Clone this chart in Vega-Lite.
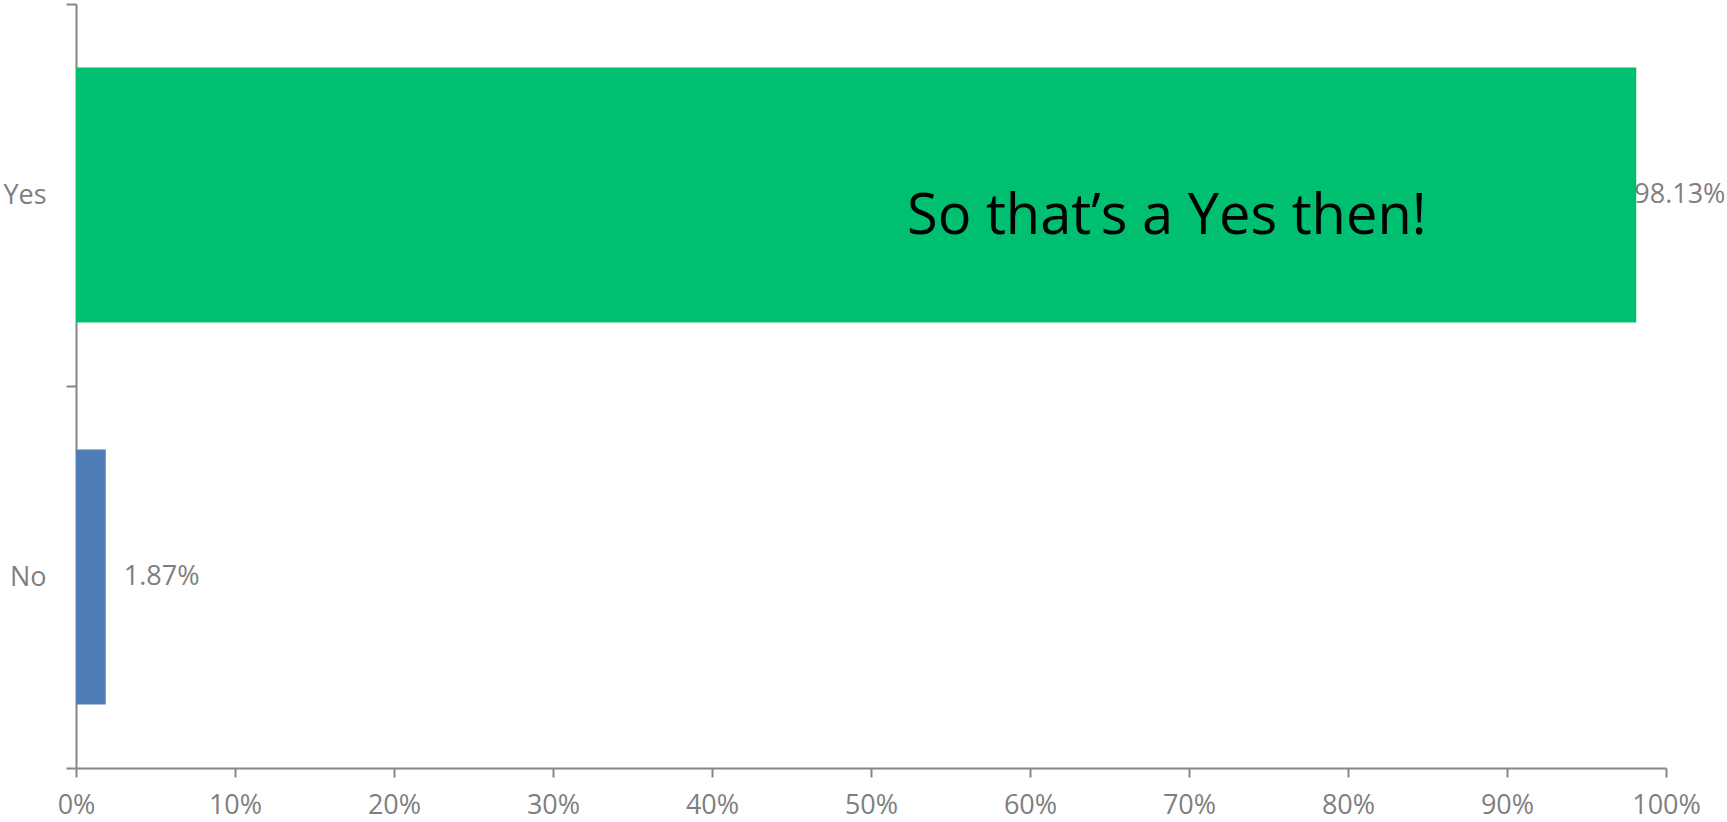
{
  "$schema": "https://vega.github.io/schema/vega-lite/v6.json",
  "width": 1590,
  "height": 764,
  "autosize": {"type": "none"},
  "padding": {"left": 76, "top": 4, "right": 61, "bottom": 54},
  "background": "white",
  "config": {
    "view": {"stroke": null},
    "font": "Open Sans",
    "axis": {
      "labelFont": "Open Sans",
      "labelFontSize": 27,
      "labelColor": "#7f7f7f",
      "domainColor": "#868686",
      "tickColor": "#868686",
      "domainWidth": 2,
      "tickWidth": 2,
      "grid": false,
      "title": null
    }
  },
  "data": {
    "values": [
      {"Answer": "Yes", "share": 0.9813},
      {"Answer": "No", "share": 0.0187}
    ]
  },
  "encoding": {
    "y": {
      "field": "Answer",
      "type": "nominal",
      "sort": ["Yes", "No"],
      "scale": {"paddingInner": 0, "paddingOuter": 0},
      "axis": {"tickBand": "extent", "tickSize": 10, "labelPadding": 20}
    },
    "x": {
      "field": "share",
      "type": "quantitative",
      "scale": {"domain": [0, 1], "nice": false},
      "axis": {
        "format": "%",
        "values": [0, 0.1, 0.2, 0.3, 0.4, 0.5, 0.6, 0.7, 0.8, 0.9, 1],
        "tickSize": 9,
        "labelPadding": 15,
        "labelFlush": false
      }
    }
  },
  "layer": [
    {
      "mark": {"type": "bar", "height": {"band": 0.667}},
      "encoding": {
        "color": {
          "field": "Answer",
          "type": "nominal",
          "scale": {"domain": ["Yes", "No"], "range": ["#00BF71", "#4F7DB7"]},
          "legend": null
        }
      }
    },
    {
      "transform": [{"filter": "datum.Answer === 'Yes'"}],
      "mark": {"type": "text", "align": "left", "baseline": "middle", "dx": -2, "fontSize": 27, "color": "#7f7f7f"},
      "encoding": {"text": {"field": "share", "type": "quantitative", "format": ".2%"}}
    },
    {
      "transform": [{"filter": "datum.Answer === 'No'"}],
      "mark": {"type": "text", "align": "left", "baseline": "middle", "dx": 18, "fontSize": 27, "color": "#7f7f7f"},
      "encoding": {"text": {"field": "share", "type": "quantitative", "format": ".2%"}}
    },
    {
      "data": {"values": [{"Answer": "Yes", "share": 0.686, "note": "So that’s a Yes then!"}]},
      "mark": {"type": "text", "align": "center", "baseline": "middle", "dy": 22, "fontSize": 56, "color": "#000000"},
      "encoding": {"text": {"field": "note", "type": "nominal"}}
    }
  ]
}
